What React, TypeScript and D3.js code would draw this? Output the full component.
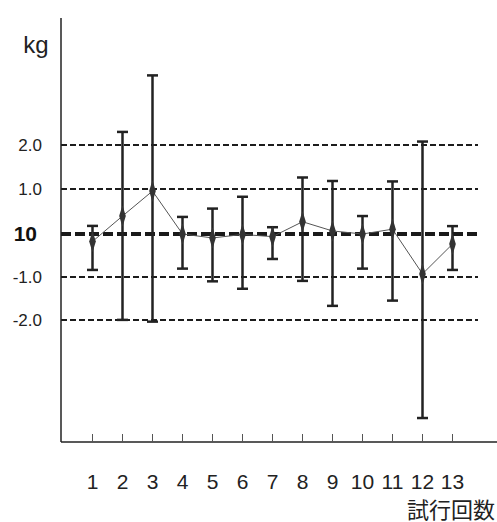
import React, { useEffect, useRef } from 'react';
import * as d3 from 'd3';

// trial numbers and measured values (kg, relative to 10)
const trials = [1, 2, 3, 4, 5, 6, 7, 8, 9, 10, 11, 12, 13];
const means = [-0.2, 0.38, 0.95, -0.03, -0.12, -0.04, -0.09, 0.25, 0.04, -0.03, 0.08, -0.94, -0.26];
const highs = [0.155, 2.3, 3.59, 0.36, 0.55, 0.82, 0.125, 1.26, 1.18, 0.38, 1.17, 2.08, 0.15];
const lows = [-0.85, -1.99, -2.03, -0.82, -1.11, -1.28, -0.6, -1.1, -1.67, -0.82, -1.55, -4.23, -0.85];

const gridValues = [2, 1, -1, -2];
const gridLabels = ['2.0', '1.0', '-1.0', '-2.0'];
const zeroLabel = '10';
const unitLabel = 'kg';
const xTitle = '試行回数';

const W = 497, H = 522;

const App = () => {
	const ref = useRef<SVGSVGElement>(null);

	useEffect(() => {
		const svg = d3.select(ref.current);
		svg.selectAll('*').remove();

		const x = d3.scaleLinear().domain([1, 13]).range([92.5, 452.5]);
		const y = d3.scaleLinear().domain([-4.8, 4.9]).range([443, 18]);
		const yr = (v: number) => Math.round(y(v));
		const axisX = 61, axisY = 442, gridEnd = 478;
		const font = '"Liberation Sans", Arial, sans-serif';

		// dashed gridlines
		svg.append('g').selectAll('line').data(gridValues).enter().append('line')
			.attr('x1', axisX).attr('x2', gridEnd)
			.attr('y1', d => yr(d)).attr('y2', d => yr(d))
			.attr('stroke', '#1c1c1c').attr('stroke-width', 2).attr('stroke-dasharray', '6,3');
		svg.append('line')
			.attr('x1', axisX).attr('x2', gridEnd).attr('y1', yr(0) + 1).attr('y2', yr(0) + 1)
			.attr('stroke', '#1a1a1a').attr('stroke-width', 4).attr('stroke-dasharray', '10,4');

		// axes
		svg.append('line').attr('x1', axisX).attr('x2', axisX).attr('y1', 18).attr('y2', axisY)
			.attr('stroke', '#222').attr('stroke-width', 1.5);
		svg.append('line').attr('x1', axisX).attr('x2', W).attr('y1', axisY).attr('y2', axisY)
			.attr('stroke', '#222').attr('stroke-width', 1.5);
		svg.append('g').selectAll('line').data(trials).enter().append('line')
			.attr('x1', d => x(d)).attr('x2', d => x(d)).attr('y1', axisY - 8).attr('y2', axisY)
			.attr('stroke', '#555').attr('stroke-width', 1);

		// y labels
		svg.append('g').selectAll('text').data(gridValues).enter().append('text')
			.attr('x', 42).attr('y', d => y(d)).attr('dy', '0.36em')
			.attr('text-anchor', 'end').attr('font-family', font).attr('font-size', 17)
			.attr('fill', '#222').text((d, i) => gridLabels[i]);
		svg.append('text').attr('x', 37).attr('y', y(0) + 1).attr('dy', '0.36em')
			.attr('text-anchor', 'end').attr('font-family', font).attr('font-size', 21)
			.attr('font-weight', 'bold').attr('fill', '#111').text(zeroLabel);
		svg.append('text').attr('x', 36).attr('y', 53).attr('text-anchor', 'middle')
			.attr('font-family', font).attr('font-size', 24).attr('fill', '#222').text(unitLabel);

		// x labels
		svg.append('g').selectAll('text').data(trials).enter().append('text')
			.attr('x', d => x(d)).attr('y', 489).attr('text-anchor', 'middle')
			.attr('font-family', font).attr('font-size', 21).attr('fill', '#222').text(d => d);
		svg.append('text').attr('x', 495).attr('y', 518).attr('text-anchor', 'end')
			.attr('font-family', '"Noto Sans CJK JP", sans-serif').attr('font-size', 22)
			.attr('fill', '#222').text(xTitle);

		// error bars
		const bars = svg.append('g').attr('stroke', '#222').attr('stroke-width', 2.5);
		trials.forEach((t, i) => {
			bars.append('line').attr('x1', x(t)).attr('x2', x(t)).attr('y1', y(highs[i])).attr('y2', y(lows[i]));
			bars.append('line').attr('x1', x(t) - 5.5).attr('x2', x(t) + 5.5).attr('y1', y(highs[i])).attr('y2', y(highs[i]));
			bars.append('line').attr('x1', x(t) - 5.5).attr('x2', x(t) + 5.5).attr('y1', y(lows[i])).attr('y2', y(lows[i]));
		});

		// mean line
		const line = d3.line<number>().x((d, i) => x(trials[i])).y(d => y(d));
		svg.append('path').attr('d', line(means)).attr('fill', 'none')
			.attr('stroke', '#555').attr('stroke-width', 1);

		// diamonds
		const diamond = d3.symbol().type(d3.symbolDiamond).size(60);
		svg.append('g').selectAll('path').data(means).enter().append('path')
			.attr('d', diamond())
			.attr('transform', (d, i) => `translate(${x(trials[i])},${y(d)}) scale(0.8,1.5)`)
			.attr('fill', '#333');
	}, []);

	return (
		<svg ref={ref} width={W} height={H}
			style={{ position: 'absolute', left: 0, top: 0, background: '#fff' }} />
	);
};

export default App;
